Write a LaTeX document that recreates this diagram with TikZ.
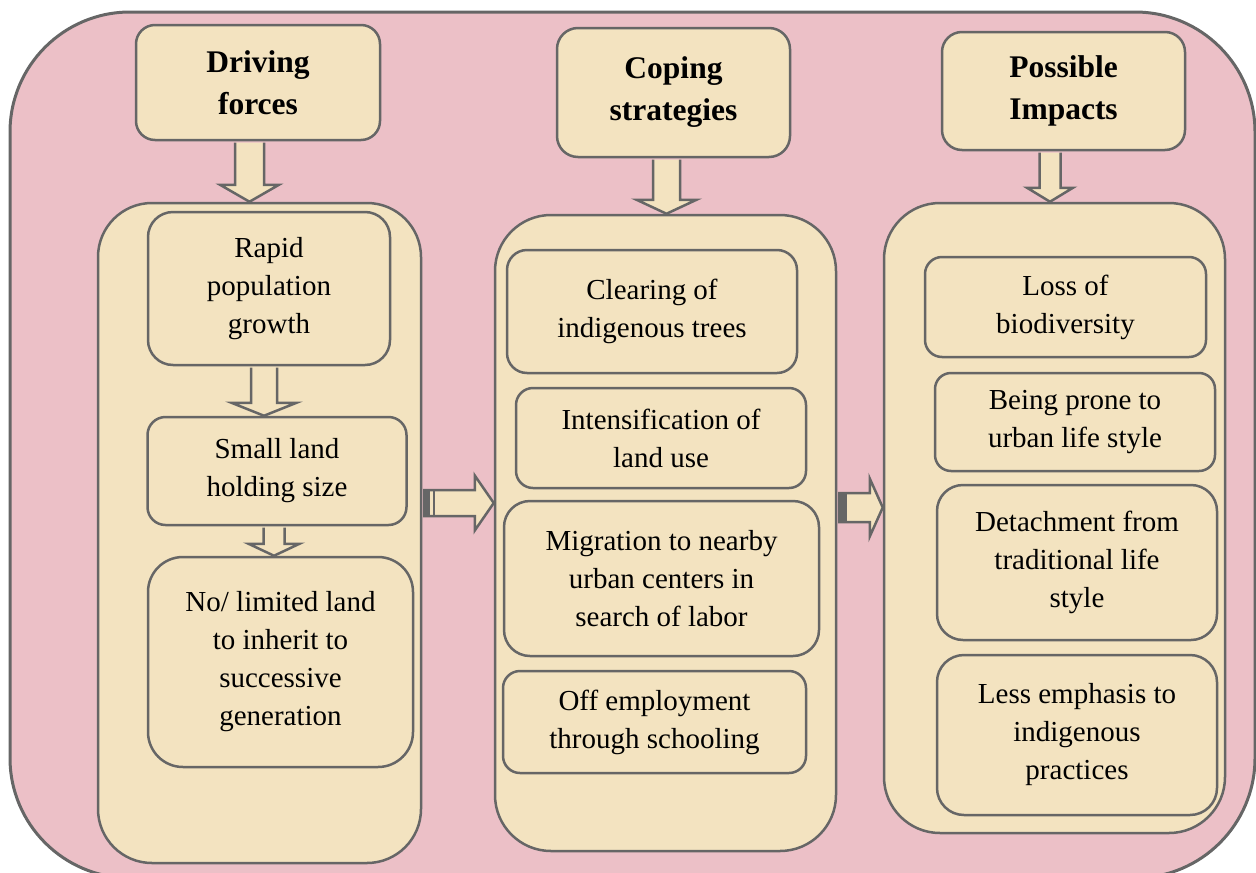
\documentclass[tikz,border=0pt]{standalone}
\usepackage{fontspec}
\setmainfont{Liberation Serif}
\usetikzlibrary{calc}
\definecolor{pinkback}{RGB}{236,192,199}
\definecolor{parchment}{RGB}{243,227,192}
\definecolor{edgegray}{RGB}{102,102,102}

\newcommand{\blockdown}[6]{%
  \draw[fatarrow] let \p1=($(#1.south)+(#3,0)$), \p2=(#2.north) in
    (\x1-#4,\y1-1.3) -- (\x1-#4,\y2+#6) -- (\x1-#5,\y2+#6) -- (\x1,\y2)
    -- (\x1+#5,\y2+#6) -- (\x1+#4,\y2+#6) -- (\x1+#4,\y1-1.3);
}
\newcommand{\blockright}[7]{%
  \draw[fatarrow] let \p1=($(#1.east)+(0,#3)$), \p2=(#2.west) in
    (\x1+2,\y1-#4) -- (\x2-#6,\y1-#4) -- (\x2-#6,\y1-#5) -- (\x2,\y1)
    -- (\x2-#6,\y1+#5) -- (\x2-#6,\y1+#4) -- (\x1+2,\y1+#4) -- cycle;
  \fill[edgegray] let \p1=($(#1.east)+(0,#3)$) in
    (\x1+1,\y1-#4) rectangle (\x1+1+#7,\y1+#4);
}

\begin{document}
\begin{tikzpicture}[x=1pt, y=-1pt,
    board/.style={draw=edgegray, line width=3pt, fill=pinkback, rounded corners=120pt},
    column/.style={draw=edgegray, line width=2.5pt, fill=parchment, rounded corners=#1},
    item/.style={draw=edgegray, line width=2.5pt, fill=parchment, rounded corners=#1,
      align=center, inner sep=0pt, font=\fontsize{29}{38}\selectfont},
    head/.style={item=#1, font=\bfseries\fontsize{31.5}{42}\selectfont},
    fatarrow/.style={draw=edgegray, line width=2.5pt, fill=parchment, line join=miter}]
  \useasboundingbox (0,0) rectangle (1256,873);
  \node[board, minimum width=1245pt, minimum height=866pt] (board) at (632.5, 445) {};
  % three columns
  \node[column=54pt, minimum width=323pt, minimum height=660pt] (colL) at (259.5, 533) {};
  \node[column=56pt, minimum width=341pt, minimum height=636pt] (colM) at (665.5, 533) {};
  \node[column=56pt, minimum width=341pt, minimum height=630pt] (colR) at (1054.5, 518) {};
  % headings
  \node[head=19pt, minimum width=244pt, minimum height=115pt] (drive) at (258, 82.5) {Driving\\forces};
  \node[head=21pt, minimum width=233pt, minimum height=129pt] (cope) at (673.5, 92.5) {Coping\\strategies};
  \node[head=20pt, minimum width=243pt, minimum height=118pt] (impact) at (1063.5, 91) {Possible\\Impacts};
  % driving forces
  \node[item=25pt, minimum width=242pt, minimum height=153pt] (rapid) at (269, 288.5) {Rapid\\population\\growth};
  \node[item=18pt, minimum width=259pt, minimum height=108pt] (small) at (277, 471) {Small land\\holding size};
  \node[item=35pt, minimum width=265pt, minimum height=210pt] (nolim) at (280.5, 662) {No/ limited land\\to inherit to\\successive\\generation};
  % coping strategies
  \node[item=20pt, minimum width=290pt, minimum height=123pt] (clear) at (652, 311.5) {Clearing of\\indigenous trees};
  \node[item=17pt, minimum width=290pt, minimum height=100pt] (intens) at (661, 438) {Intensification of\\land use};
  \node[item=26pt, minimum width=315pt, minimum height=155pt] (migr) at (661.5, 578.5) {Migration to nearby\\urban centers in\\search of labor};
  \node[item=17pt, minimum width=303pt, minimum height=102pt] (offemp) at (654.5, 722) {Off employment\\through schooling};
  % possible impacts
  \node[item=17pt, minimum width=281pt, minimum height=100pt] (loss) at (1065.5, 307) {Loss of\\biodiversity};
  \node[item=16pt, minimum width=280pt, minimum height=98pt] (urban) at (1075, 422) {Being prone to\\urban life style};
  \node[item=26pt, minimum width=280pt, minimum height=155pt] (detach) at (1077, 562.5) {Detachment from\\traditional life\\style};
  \node[item=27pt, minimum width=280pt, minimum height=160pt] (less) at (1077, 735) {Less emphasis to\\indigenous\\practices};
  % block arrows
  \blockdown{drive}{colL}{-8.5}{14.5}{29.5}{17}
  \blockdown{cope}{colM}{-7}{13.5}{30}{14}
  \blockdown{impact}{colR}{-13.5}{10.5}{23}{14}
  \blockdown{rapid}{small}{-5}{13}{32.5}{13}
  \blockdown{small}{nolim}{-3}{10.5}{25.5}{12}
  \blockright{colL}{colM}{-30}{13}{27.5}{19}{7}
  \draw[edgegray, line width=2pt] let \p1=($(colL.east)+(0,-30)$) in
    (\x1+12,\y1-13) -- (\x1+12,\y1+13);
  \blockright{colM}{colR}{-25.5}{14.5}{29}{13}{9}
\end{tikzpicture}
\end{document}
